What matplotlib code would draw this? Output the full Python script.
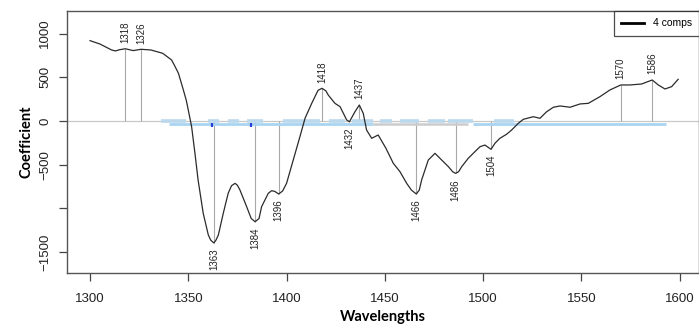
import matplotlib
matplotlib.use("Agg")
import matplotlib.pyplot as plt
from matplotlib.lines import Line2D
import numpy as np

# regression coefficient curve
wl = [1300, 1305, 1311, 1313, 1315, 1318, 1322, 1326, 1331, 1337, 1341.5, 1343, 1345,
      1347.5, 1349, 1350, 1351.7, 1353.4, 1355, 1357.6, 1360.2, 1361.4, 1363, 1364.1,
      1365.3, 1367.8, 1370.3, 1372, 1373.8, 1375, 1376.3, 1379.7, 1382, 1384, 1386,
      1387.3, 1390.7, 1392.4, 1394, 1396, 1398, 1400,
      1403.4, 1406.8, 1409.4, 1412.8, 1416, 1418, 1420, 1421.2, 1424.6, 1427.2, 1430.6,
      1432, 1434.8, 1437, 1439, 1440.7, 1443.3, 1446.6, 1450.5, 1454.3, 1457.7, 1461.1,
      1463.5, 1466, 1467.5, 1468.7, 1472.1, 1475.5, 1478.9, 1482.3, 1484.5, 1486, 1487.5,
      1489.1, 1492.4, 1495.8, 1498.4, 1500.9, 1504, 1506, 1508.5, 1511.9, 1514.5, 1517.9,
      1520.4, 1525.5, 1528.9, 1532.3, 1535.7, 1539.1, 1544.2, 1549.3, 1553.5, 1559.4,
      1564.5, 1570, 1574.7, 1580.6, 1586, 1589.1, 1592.5, 1595.9, 1599.2]
coef = [919, 881, 812, 801, 815, 826, 805, 820, 812, 774, 698, 635, 546,
        355, 235, 126, -65, -370, -675, -1056, -1304, -1362, -1395, -1362,
        -1304, -1056, -827, -740, -713, -735, -790, -980, -1115, -1152, -1115,
        -980, -827, -797, -805, -835, -800, -713,
        -446, -179, 31, 202, 350, 374, 345, 297, 202, 164, 11,
        -8, 106, 183, 88, -103, -198, -160, -310, -484, -580, -713,
        -790, -835, -790, -675, -446, -370, -446, -522, -580, -599, -580,
        -522, -427, -351, -294, -275, -324, -255, -198, -152, -103, -26,
        19, 49, 31, 106, 157, 172, 157, 195, 202, 278,
        355, 412, 412, 423, 469, 412, 366, 393, 477]

peaks_up = [1318, 1326, 1418, 1437, 1570, 1586]
peaks_down = [1363, 1384, 1396, 1432, 1466, 1486, 1504]

# significant intervals (upper dashed band at 0)
band_upper = [(1336, 1349), (1360, 1365.6), (1370.2, 1375.8), (1379.9, 1388),
              (1398.2, 1417), (1421.6, 1429.7), (1433.3, 1444), (1447.5, 1453.6),
              (1457.7, 1467.3), (1471.9, 1480.6), (1482, 1494.8), (1505.5, 1515.7)]
band_lower = [(1340.2, 1443.9), (1494.8, 1593)]
band_grey = [(1443.9, 1492.3)]
marks = [1362, 1382]

fig = plt.figure(figsize=(6.99, 3.28), dpi=100)
ax = fig.add_axes([0.0954, 0.1667, 0.9046, 0.7998])

ax.axhline(0, color="#c8c8c8", lw=0.9, zorder=1)

for a, b in band_upper:
    ax.plot([a, b], [0, 0], color="#bcd8ec", lw=2.6, solid_capstyle="butt", zorder=2)
for a, b in band_lower:
    ax.plot([a, b], [-40, -40], color="#a9d4f2", lw=2.0, solid_capstyle="butt", zorder=2)
for a, b in band_grey:
    ax.plot([a, b], [-40, -40], color="#cccccc", lw=1.8, solid_capstyle="butt", zorder=2)
ax.plot(marks, [-50, -50], ls="none", marker="|", ms=3, mew=1.6, color="#2a3fd6", zorder=3)

up_vals = np.interp(peaks_up, wl, coef)
down_vals = np.interp(peaks_down, wl, coef)
ax.vlines(peaks_up, 0, up_vals, color="#a9a9a9", lw=0.8, zorder=1)
ax.vlines(peaks_down, 0, down_vals, color="#a9a9a9", lw=0.8, zorder=1)

ax.plot(wl, coef, color="#2b2b2b", lw=0.9, zorder=4)

for p, v in zip(peaks_up, up_vals):
    ax.annotate(str(p), (p, v), xytext=(0, 4), textcoords="offset points",
                rotation=90, ha="center", va="bottom", fontsize=7,
                family="Liberation Sans", color="#222222")
for p, v in zip(peaks_down, down_vals):
    ax.annotate(str(p), (p, v), xytext=(0, -4), textcoords="offset points",
                rotation=90, ha="center", va="top", fontsize=7,
                family="Liberation Sans", color="#222222")

ax.set_xlim(1288.15, 1609.8)
ax.set_ylim(-1742, 1258)
ax.set_xticks([1300, 1350, 1400, 1450, 1500, 1550, 1600])
ax.set_yticks([-1500, -1000, -500, 0, 500, 1000])
ax.set_yticklabels(["\u22121500", "", "\u2212500", "0", "500", "1000"], rotation=90, va="center")
ax.tick_params(axis="both", direction="out", length=6, width=0.9, color="#444444",
               labelsize=9.5, labelcolor="#222222")
ax.tick_params(axis="x", pad=8)
ax.tick_params(axis="y", pad=5)
for lab in ax.get_xticklabels() + ax.get_yticklabels():
    lab.set_family("Liberation Sans")
for s in ax.spines.values():
    s.set_color("#555555")
    s.set_linewidth(1.0)

ax.set_xlabel("Wavelengths", fontsize=10.5, fontweight="bold", family="Lato", labelpad=4)
ax.set_ylabel("Coefficient", fontsize=10.5, fontweight="bold", family="Lato", labelpad=4)

leg = ax.legend([Line2D([0], [0], color="black", lw=2)], ["4 comps"], loc="upper right",
                borderaxespad=0, fancybox=False, frameon=True, handlelength=2.2,
                prop={"family": "Liberation Sans", "size": 7.5}, borderpad=0.7)
leg.get_frame().set_edgecolor("#222222")
leg.get_frame().set_linewidth(0.9)

fig.savefig("out.png", dpi=100)
